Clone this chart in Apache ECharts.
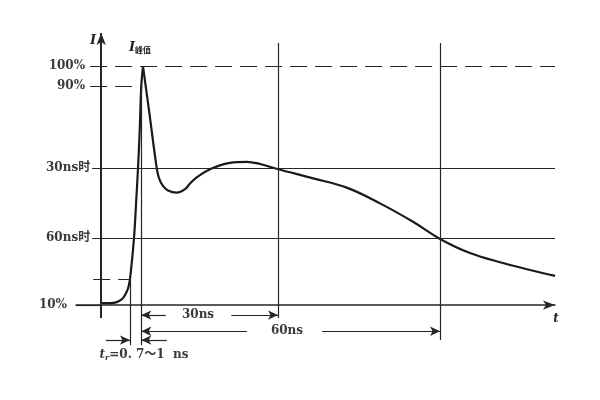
<!DOCTYPE html>
<html>
<head>
<meta charset="utf-8">
<script src="https://cdn.jsdelivr.net/npm/echarts@6/dist/echarts.min.js"></script>
<style>html,body{margin:0;padding:0;background:#fff}#c{width:600px;height:400px}</style>
</head>
<body>
<div id="c"></div>
<script>
// Rising edge of the current pulse (t in schematic ns units, I in % of peak)
const riseT = [0, 1.75, 2.74, 3.73, 4.32, 5.06, 5.45, 5.7, 6.0, 6.3, 6.6, 6.95, 7.3, 7.65, 7.95, 8.29];
const riseI = [0.8, 0.8, 1.0, 1.9, 2.9, 5.6, 8.0, 10.9, 16.5, 23, 31, 44, 57.4, 74, 91.8, 100];
// Falling part / tail of the pulse
const fallT = [8.29, 9.68, 11.01, 11.46, 12.25, 13.24, 14.97, 16.62, 17.61, 19.0, 21.58, 25.54, 28.86, 31.5, 35.13, 42.0, 48.69, 55.29, 61.84, 67.2, 73.14, 79.69, 85.05, 90.0];
const fallI = [100, 78.4, 57.4, 53.2, 49.9, 48.0, 47.1, 48.6, 50.9, 53.6, 56.9, 59.6, 60.0, 59.1, 56.9, 53.1, 49.2, 42.6, 34.9, 27.7, 21.8, 17.6, 14.7, 12.2];
// Reference levels
const levelLabels = ['100%', '90%', '30ns时', '60ns时', '10%'];
const levelValues = [100.1, 91.8, 57.4, 28.1, 0];
const tenPctLevel = 10.9;
// Key times
const t10 = 5.7, t90 = 7.95, t30 = 35.07, t60 = 67.2;
const dimTexts = ['30ns', '60ns'];

const FONT = "'DejaVu Serif', 'Noto Sans CJK SC', serif";
const INK = '#262626';
const TXT = '#3a3a3a';
const thin = {color: INK, width: 1.2, type: 'solid'};
const dash = {color: INK, width: 1.2, type: [17, 8], dashOffset: 0};

function seg(x1, y1, x2, y2, opts) {
  opts = opts || {};
  return [
    {coord: [x1, y1], symbol: opts.s1 || 'none', symbolSize: opts.ss || [7, 10], lineStyle: opts.ls || thin,
     label: opts.label || {show: false}},
    {coord: [x2, y2], symbol: opts.s2 || 'none', symbolSize: opts.ss || [7, 10]}
  ];
}
function lvlLabel(txt, dist) {
  return {show: true, position: 'start', formatter: txt, distance: dist, color: TXT,
          fontFamily: FONT, fontSize: 12, fontWeight: 'bold'};
}

const markLines = [
  // y axis
  seg(0, -5.4, 0, 114, {s2: 'arrow', ss: [7, 12], ls: {color: INK, width: 2, type: 'solid'}}),
  seg(-2.2, levelValues[0], 90, levelValues[0], {ls: dash, label: lvlLabel(levelLabels[0], 5)}),
  seg(-2.2, levelValues[1], t90, levelValues[1], {ls: dash, label: lvlLabel(levelLabels[1], 5)}),
  seg(-1.8, levelValues[2], 90, levelValues[2], {label: lvlLabel(levelLabels[2], 2)}),
  seg(-1.8, levelValues[3], 90, levelValues[3], {label: lvlLabel(levelLabels[3], 2)}),
  seg(-5, levelValues[4], 0, levelValues[4], {label: lvlLabel(levelLabels[4], 9)}),
  seg(-1.6, tenPctLevel, t10, tenPctLevel, {ls: dash}),
  // verticals
  seg(t10, tenPctLevel, t10, -16.8),
  seg(t90, levelValues[1], t90, -16.8),
  seg(t30, 109.8, t30, -5.4),
  seg(t60, 109.8, t60, -14.7),
  // 30ns dimension
  seg(t90, -4.2, 12.8, -4.2, {s1: 'arrow'}),
  seg(25.8, -4.2, t30, -4.2, {s2: 'arrow'}),
  // 60ns dimension
  seg(t90, -11.0, 28.9, -11.0, {s1: 'arrow'}),
  seg(43.8, -11.0, t60, -11.0, {s2: 'arrow'}),
  // t_r arrows
  seg(0.9, -14.7, t10, -14.7, {s2: 'arrow'}),
  seg(13.0, -14.7, t90, -14.7, {s2: 'arrow'})
];

function txt(x, y, formatter, rich, offset) {
  return {coord: [x, y], symbol: 'circle', symbolSize: 0,
    itemStyle: {color: 'rgba(0,0,0,0)'},
    label: {show: true, position: 'inside', formatter: formatter, rich: rich, offset: offset || [0, 0],
            color: TXT, fontFamily: FONT, fontSize: 12, fontWeight: 'bold'}};
}

const markPoints = [
  txt(19.2, -4.2, dimTexts[0]),
  txt(36.85, -11.0, dimTexts[1]),
  txt(8.49, -20.9, '{it|t}{sub|r}{n|=0. 7～1  ns}', {
    it: {fontStyle: 'italic', fontWeight: 'bold', fontFamily: FONT, fontSize: 12, color: TXT},
    sub: {fontStyle: 'italic', fontFamily: FONT, fontSize: 8, color: TXT, padding: [6, 0, 0, 0]},
    n: {fontFamily: FONT, fontSize: 12, fontWeight: 'bold', color: TXT}
  }),
  txt(-1.6, 111, '{i|I}', {i: {fontStyle: 'italic', fontWeight: 'bold', fontFamily: FONT, fontSize: 13, color: '#222'}}),
  txt(7.7, 108, '{i|I}{s|峰值}', {
    i: {fontStyle: 'italic', fontWeight: 'bold', fontFamily: FONT, fontSize: 13, color: '#222'},
    s: {fontWeight: 'bold', fontFamily: "'Noto Sans CJK SC', sans-serif", fontSize: 8, color: '#222', padding: [6, 0, 0, 0]}
  }),
  txt(90, -5.6, '{i|t}', {i: {fontStyle: 'italic', fontWeight: 'bold', fontFamily: FONT, fontSize: 12, color: '#222'}}, [1, 0])
];

const chart = echarts.init(document.getElementById('c'), null, {renderer: 'canvas'});
chart.setOption({
  animation: false,
  backgroundColor: '#fff',
  grid: {left: 76, right: 45, top: 33, bottom: 35.3},
  xAxis: {
    type: 'value', min: -5, max: 90,
    axisLine: {show: true, onZero: true, symbol: ['none', 'arrow'], symbolSize: [7, 12],
               lineStyle: {color: INK, width: 1.5}},
    axisTick: {show: false}, axisLabel: {show: false}, splitLine: {show: false}
  },
  yAxis: {
    type: 'value', min: -25, max: 114,
    axisLine: {show: false},
    axisTick: {show: false}, axisLabel: {show: false}, splitLine: {show: false}
  },
  series: [
    {
      type: 'line', data: riseT.map((t, i) => [t, riseI[i]]),
      smooth: 0.4, showSymbol: false, clip: false,
      lineStyle: {color: '#1a1a1a', width: 2.2}
    },
    {
      type: 'line', data: fallT.map((t, i) => [t, fallI[i]]),
      smooth: 0.4, showSymbol: false, clip: false,
      lineStyle: {color: '#1a1a1a', width: 2.2},
      markLine: {silent: true, animation: false, symbol: ['none', 'none'], data: markLines},
      markPoint: {silent: true, animation: false, data: markPoints}
    }
  ]
});
</script>
</body>
</html>
